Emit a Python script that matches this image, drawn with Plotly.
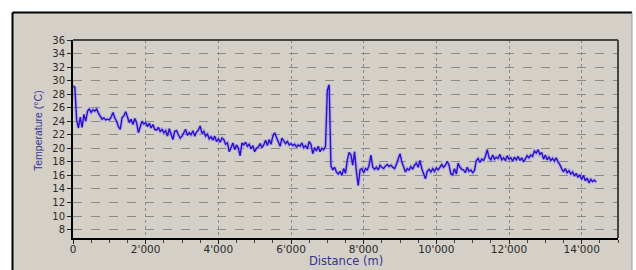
import plotly.graph_objects as go

# Temperature profile (°C), sampled every 50 m from 0 m
temperature_c = [
    29.2, 29.0, 24.2, 23.0, 24.6, 23.1, 25.0, 24.0, 25.5, 25.8, 25.3, 25.7, 25.5, 25.8, 25.2, 24.8, 24.3, 24.5, 24.2, 24.3,
    24.2, 24.6, 25.3, 24.5, 24.0, 23.2, 22.8, 24.5, 24.8, 25.4, 24.6, 23.8, 24.3, 23.5, 24.4, 23.8, 22.3, 23.2, 24.0, 23.6,
    23.8, 23.2, 23.7, 23.0, 23.5, 22.8, 22.7, 23.1, 22.5, 22.8, 22.3, 22.6, 21.8, 22.9, 22.2, 21.3, 22.5, 22.6, 22.0, 21.5,
    21.8, 22.4, 22.8, 21.9, 22.3, 22.0, 22.6, 21.8, 22.4, 22.7, 23.3, 22.2, 22.5, 21.8, 22.1, 21.4, 21.7, 21.2, 21.8, 21.0,
    21.4, 20.9, 21.5, 21.3, 20.6, 20.8, 19.5, 20.1, 20.8, 19.8, 20.5, 20.0, 18.9, 20.8, 20.5, 20.9, 20.3, 20.6, 19.9, 20.4,
    19.5, 20.0, 20.2, 20.7, 20.1, 20.5, 21.2, 20.4, 21.3, 20.6, 21.8, 22.3, 21.6, 20.8, 20.3, 21.5, 21.1, 20.7, 21.0, 20.5,
    20.7, 20.4, 20.6, 20.2, 20.5, 20.3, 20.8, 20.1, 20.4, 19.9, 21.0, 20.6, 19.2, 20.1, 19.6, 20.3, 19.5, 20.0, 19.8, 20.3,
    28.6, 29.4, 17.4, 16.8, 17.2, 16.5, 16.2, 16.6, 16.0, 17.0, 16.3, 18.3, 19.4, 19.0, 17.5, 19.5, 16.5, 14.5, 16.8, 17.0,
    16.4, 17.0, 16.8, 17.5, 19.0, 17.2, 16.9, 17.2, 16.8, 17.5, 17.2, 17.0, 17.4, 17.6, 17.3, 17.5, 17.2, 17.0, 17.6, 18.3,
    19.2, 18.0, 17.2, 16.5, 17.0, 16.8, 17.3, 16.9, 17.5, 17.8, 17.2, 18.2, 17.0, 16.2, 15.5, 16.6, 16.9, 16.5, 17.0, 16.6,
    17.1, 16.8, 17.3, 17.6, 17.2, 17.5, 18.1, 17.5, 16.2, 16.1, 17.0, 16.2, 17.8, 17.2, 16.9, 16.8, 16.4, 17.2, 16.6, 16.8,
    16.4, 16.7, 18.2, 18.5, 17.9, 18.4, 18.2, 18.8, 19.8, 18.6, 18.3, 19.0, 18.4, 18.7, 18.5, 19.1, 18.3, 18.6, 18.2, 18.9,
    18.4, 18.6, 18.1, 18.7, 18.3, 18.8, 18.2, 18.6, 18.0, 18.4, 18.9, 18.6, 19.0, 18.8, 19.6, 19.3, 19.8, 19.1, 19.4, 18.4,
    19.0, 18.3, 18.7, 18.2, 18.5, 18.1, 18.6, 18.0, 17.6, 17.0, 16.5, 17.0, 16.4, 16.7, 16.2, 16.5, 15.9, 16.3, 15.7, 16.1,
    15.4, 16.0, 15.2, 15.6, 14.9, 15.4, 15.1, 15.3, 15.0,
]
sample_step_m = 50
distance_m = [i * sample_step_m for i in range(len(temperature_c))]

x_tick_values = [0, 2000, 4000, 6000, 8000, 10000, 12000, 14000]
x_tick_labels = ["0", "2'000", "4'000", "6'000", "8'000", "10'000", "12'000", "14'000"]
y_tick_values = [8, 10, 12, 14, 16, 18, 20, 22, 24, 26, 28, 30, 32, 34, 36]
y_tick_labels = [str(v) for v in y_tick_values]

W, H = 636, 270
ML, MR, MT, MB = 73, 18, 40, 32
PW, PH = W - ML - MR, H - MT - MB


def px(x):
    return (x - ML) / PW


def py(y):
    return (H - MB - y) / PH


BG = "#d4d0c8"

fig = go.Figure()
fig.add_trace(go.Scatter(
    x=distance_m, y=temperature_c, mode="lines",
    line=dict(color="rgba(150,140,235,0.55)", width=3.5),
    hoverinfo="skip", showlegend=False,
))
fig.add_trace(go.Scatter(
    x=distance_m, y=temperature_c, mode="lines",
    line=dict(color="#2a10cc", width=1.4),
    showlegend=False,
))

shapes = [
    # outer panel
    dict(type="rect", xref="paper", yref="paper", layer="below",
         x0=px(12.5), x1=px(632), y0=py(280), y1=py(12.5),
         fillcolor=BG, line=dict(width=0)),
    dict(type="line", xref="paper", yref="paper", layer="below",
         x0=px(12.5), x1=px(12.5), y0=py(280), y1=py(12.5),
         line=dict(color="black", width=2)),
    dict(type="line", xref="paper", yref="paper", layer="below",
         x0=px(12.5), x1=px(632), y0=py(12.5), y1=py(12.5),
         line=dict(color="black", width=2)),
    dict(type="line", xref="paper", yref="paper", layer="below",
         x0=px(632), x1=px(632), y0=py(280), y1=py(12.5),
         line=dict(color="#9a9a9a", width=1)),
    # top and right plot border
    dict(type="line", xref="paper", yref="paper", layer="above",
         x0=0, x1=1, y0=1, y1=1, line=dict(color="#454545", width=2)),
    dict(type="line", xref="paper", yref="paper", layer="above",
         x0=1, x1=1, y0=0, y1=1, line=dict(color="#454545", width=2)),
]

annotations = [
    dict(xref="paper", yref="paper", x=0.5, y=py(261), text="Distance (m)",
         showarrow=False, font=dict(family="DejaVu Sans", size=11.5, color="#34348e"),
         xanchor="center", yanchor="middle"),
    dict(xref="paper", yref="paper", x=px(38), y=py(131), text="Temperature (°C)",
         showarrow=False, textangle=-90,
         font=dict(family="Liberation Sans", size=10.5, color="#34348e"),
         xanchor="center", yanchor="middle"),
]

fig.update_layout(
    width=W, height=H,
    margin=dict(l=ML, r=MR, t=MT, b=MB, pad=0),
    paper_bgcolor="white", plot_bgcolor=BG,
    shapes=shapes, annotations=annotations,
    showlegend=False,
    font=dict(family="DejaVu Sans", size=10, color="#2a2a2a"),
)
fig.update_xaxes(
    range=[0, 15000], tickvals=x_tick_values, ticktext=x_tick_labels,
    showline=True, linecolor="black", linewidth=2,
    ticks="outside", ticklen=4, tickcolor="#222", tickwidth=1,
    ticklabelstandoff=-4,
    showgrid=True, gridcolor="#8a8a8a", gridwidth=1, griddash="dot",
    zeroline=False, tickfont=dict(size=10.5),
    minor=dict(dtick=500, ticks="outside", ticklen=3, tickcolor="#444", showgrid=False),
)
fig.update_yaxes(
    range=[6.75, 36], tickvals=y_tick_values, ticktext=y_tick_labels,
    showline=True, linecolor="black", linewidth=2,
    ticks="outside", ticklen=4, tickcolor="#222", tickwidth=1,
    showgrid=True, gridcolor="#8a8a8a", gridwidth=1, griddash="dash",
    zeroline=False, tickfont=dict(size=10),
)

fig.write_html(
    "out.html",
    config={"displayModeBar": False},
    post_script="document.body.style.margin='0';document.body.style.overflow='hidden';",
)
